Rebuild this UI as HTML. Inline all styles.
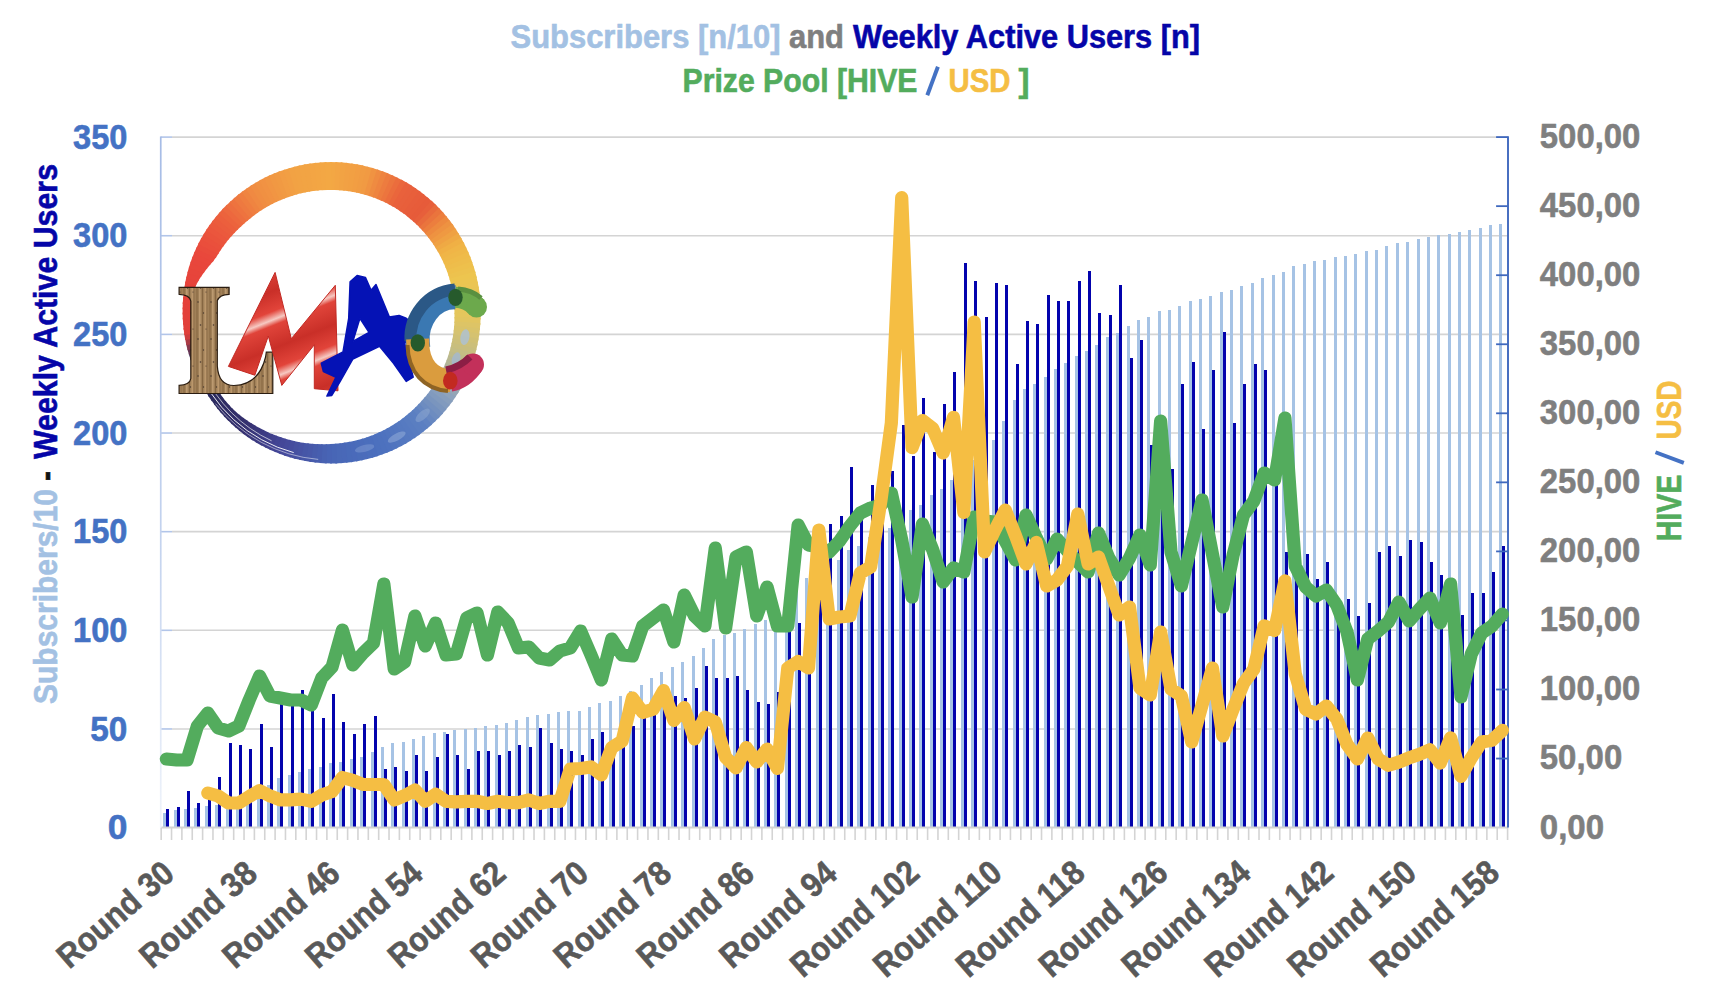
<!DOCTYPE html>
<html><head><meta charset="utf-8"><title>LMAC chart</title>
<style>html,body{margin:0;padding:0;background:#fff;}body{width:1714px;height:998px;position:relative;overflow:hidden;font-family:"Liberation Sans",sans-serif;}</style>
</head><body>
<svg width="1714" height="998" viewBox="0 0 1714 998" style="position:absolute;left:0;top:0">
<line x1="172" y1="728.96" x2="1507.60" y2="728.96" stroke="#D4D4D4" stroke-width="1.6"/>
<line x1="160.70" y1="728.96" x2="172" y2="728.96" stroke="#B2C5E9" stroke-width="1.6"/>
<line x1="172" y1="630.31" x2="1507.60" y2="630.31" stroke="#D4D4D4" stroke-width="1.6"/>
<line x1="160.70" y1="630.31" x2="172" y2="630.31" stroke="#B2C5E9" stroke-width="1.6"/>
<line x1="172" y1="531.67" x2="1507.60" y2="531.67" stroke="#D4D4D4" stroke-width="1.6"/>
<line x1="160.70" y1="531.67" x2="172" y2="531.67" stroke="#B2C5E9" stroke-width="1.6"/>
<line x1="172" y1="433.03" x2="1507.60" y2="433.03" stroke="#D4D4D4" stroke-width="1.6"/>
<line x1="160.70" y1="433.03" x2="172" y2="433.03" stroke="#B2C5E9" stroke-width="1.6"/>
<line x1="172" y1="334.39" x2="1507.60" y2="334.39" stroke="#D4D4D4" stroke-width="1.6"/>
<line x1="160.70" y1="334.39" x2="172" y2="334.39" stroke="#B2C5E9" stroke-width="1.6"/>
<line x1="172" y1="235.74" x2="1507.60" y2="235.74" stroke="#D4D4D4" stroke-width="1.6"/>
<line x1="160.70" y1="235.74" x2="172" y2="235.74" stroke="#B2C5E9" stroke-width="1.6"/>
<line x1="172" y1="137.10" x2="1507.60" y2="137.10" stroke="#D4D4D4" stroke-width="1.6"/>
<line x1="160.70" y1="137.10" x2="172" y2="137.10" stroke="#B2C5E9" stroke-width="1.6"/>
<g shape-rendering="crispEdges">
<rect x="163" y="813" width="3" height="15" fill="#A6C3E5"/>
<rect x="174" y="810" width="3" height="18" fill="#A6C3E5"/>
<rect x="184" y="809" width="3" height="19" fill="#A6C3E5"/>
<rect x="194" y="808" width="3" height="20" fill="#A6C3E5"/>
<rect x="205" y="806" width="3" height="22" fill="#A6C3E5"/>
<rect x="215" y="805" width="3" height="23" fill="#A6C3E5"/>
<rect x="226" y="802" width="3" height="26" fill="#A6C3E5"/>
<rect x="236" y="798" width="3" height="30" fill="#A6C3E5"/>
<rect x="246" y="794" width="3" height="34" fill="#A6C3E5"/>
<rect x="257" y="790" width="3" height="38" fill="#A6C3E5"/>
<rect x="267" y="785" width="3" height="43" fill="#A6C3E5"/>
<rect x="277" y="778" width="3" height="50" fill="#A6C3E5"/>
<rect x="288" y="775" width="3" height="53" fill="#A6C3E5"/>
<rect x="298" y="772" width="3" height="56" fill="#A6C3E5"/>
<rect x="308" y="769" width="3" height="59" fill="#A6C3E5"/>
<rect x="319" y="767" width="3" height="61" fill="#A6C3E5"/>
<rect x="329" y="763" width="3" height="65" fill="#A6C3E5"/>
<rect x="339" y="762" width="3" height="66" fill="#A6C3E5"/>
<rect x="350" y="759" width="3" height="69" fill="#A6C3E5"/>
<rect x="360" y="757" width="3" height="71" fill="#A6C3E5"/>
<rect x="371" y="752" width="3" height="76" fill="#A6C3E5"/>
<rect x="381" y="747" width="3" height="81" fill="#A6C3E5"/>
<rect x="391" y="743" width="3" height="85" fill="#A6C3E5"/>
<rect x="402" y="742" width="3" height="86" fill="#A6C3E5"/>
<rect x="412" y="739" width="3" height="89" fill="#A6C3E5"/>
<rect x="422" y="736" width="3" height="92" fill="#A6C3E5"/>
<rect x="433" y="733" width="3" height="95" fill="#A6C3E5"/>
<rect x="443" y="732" width="3" height="96" fill="#A6C3E5"/>
<rect x="453" y="730" width="3" height="98" fill="#A6C3E5"/>
<rect x="464" y="729" width="3" height="99" fill="#A6C3E5"/>
<rect x="474" y="728" width="3" height="100" fill="#A6C3E5"/>
<rect x="484" y="726" width="3" height="102" fill="#A6C3E5"/>
<rect x="495" y="725" width="3" height="103" fill="#A6C3E5"/>
<rect x="505" y="723" width="3" height="105" fill="#A6C3E5"/>
<rect x="515" y="720" width="3" height="108" fill="#A6C3E5"/>
<rect x="526" y="717" width="3" height="111" fill="#A6C3E5"/>
<rect x="536" y="715" width="3" height="113" fill="#A6C3E5"/>
<rect x="547" y="714" width="3" height="114" fill="#A6C3E5"/>
<rect x="557" y="712" width="3" height="116" fill="#A6C3E5"/>
<rect x="567" y="711" width="3" height="117" fill="#A6C3E5"/>
<rect x="578" y="711" width="3" height="117" fill="#A6C3E5"/>
<rect x="588" y="707" width="3" height="121" fill="#A6C3E5"/>
<rect x="598" y="703" width="3" height="125" fill="#A6C3E5"/>
<rect x="609" y="701" width="3" height="127" fill="#A6C3E5"/>
<rect x="619" y="696" width="3" height="132" fill="#A6C3E5"/>
<rect x="629" y="691" width="3" height="137" fill="#A6C3E5"/>
<rect x="640" y="685" width="3" height="143" fill="#A6C3E5"/>
<rect x="650" y="678" width="3" height="150" fill="#A6C3E5"/>
<rect x="660" y="672" width="3" height="156" fill="#A6C3E5"/>
<rect x="671" y="667" width="3" height="161" fill="#A6C3E5"/>
<rect x="681" y="662" width="3" height="166" fill="#A6C3E5"/>
<rect x="692" y="656" width="3" height="172" fill="#A6C3E5"/>
<rect x="702" y="648" width="3" height="180" fill="#A6C3E5"/>
<rect x="712" y="639" width="3" height="189" fill="#A6C3E5"/>
<rect x="723" y="635" width="3" height="193" fill="#A6C3E5"/>
<rect x="733" y="633" width="3" height="195" fill="#A6C3E5"/>
<rect x="743" y="629" width="3" height="199" fill="#A6C3E5"/>
<rect x="754" y="624" width="3" height="204" fill="#A6C3E5"/>
<rect x="764" y="620" width="3" height="208" fill="#A6C3E5"/>
<rect x="774" y="617" width="3" height="211" fill="#A6C3E5"/>
<rect x="785" y="605" width="3" height="223" fill="#A6C3E5"/>
<rect x="795" y="592" width="3" height="236" fill="#A6C3E5"/>
<rect x="805" y="578" width="3" height="250" fill="#A6C3E5"/>
<rect x="816" y="570" width="3" height="258" fill="#A6C3E5"/>
<rect x="826" y="565" width="3" height="263" fill="#A6C3E5"/>
<rect x="837" y="560" width="3" height="268" fill="#A6C3E5"/>
<rect x="847" y="550" width="3" height="278" fill="#A6C3E5"/>
<rect x="857" y="546" width="3" height="282" fill="#A6C3E5"/>
<rect x="868" y="537" width="3" height="291" fill="#A6C3E5"/>
<rect x="878" y="532" width="3" height="296" fill="#A6C3E5"/>
<rect x="888" y="528" width="3" height="300" fill="#A6C3E5"/>
<rect x="899" y="518" width="3" height="310" fill="#A6C3E5"/>
<rect x="909" y="510" width="3" height="318" fill="#A6C3E5"/>
<rect x="919" y="505" width="3" height="323" fill="#A6C3E5"/>
<rect x="930" y="495" width="3" height="333" fill="#A6C3E5"/>
<rect x="940" y="489" width="3" height="339" fill="#A6C3E5"/>
<rect x="950" y="480" width="3" height="348" fill="#A6C3E5"/>
<rect x="961" y="470" width="3" height="358" fill="#A6C3E5"/>
<rect x="971" y="460" width="3" height="368" fill="#A6C3E5"/>
<rect x="982" y="450" width="3" height="378" fill="#A6C3E5"/>
<rect x="992" y="440" width="3" height="388" fill="#A6C3E5"/>
<rect x="1002" y="421" width="3" height="407" fill="#A6C3E5"/>
<rect x="1013" y="400" width="3" height="428" fill="#A6C3E5"/>
<rect x="1023" y="389" width="3" height="439" fill="#A6C3E5"/>
<rect x="1033" y="384" width="3" height="444" fill="#A6C3E5"/>
<rect x="1044" y="377" width="3" height="451" fill="#A6C3E5"/>
<rect x="1054" y="369" width="3" height="459" fill="#A6C3E5"/>
<rect x="1064" y="363" width="3" height="465" fill="#A6C3E5"/>
<rect x="1075" y="356" width="3" height="472" fill="#A6C3E5"/>
<rect x="1085" y="351" width="3" height="477" fill="#A6C3E5"/>
<rect x="1095" y="345" width="3" height="483" fill="#A6C3E5"/>
<rect x="1106" y="337" width="3" height="491" fill="#A6C3E5"/>
<rect x="1116" y="333" width="3" height="495" fill="#A6C3E5"/>
<rect x="1127" y="326" width="3" height="502" fill="#A6C3E5"/>
<rect x="1137" y="320" width="3" height="508" fill="#A6C3E5"/>
<rect x="1147" y="317" width="3" height="511" fill="#A6C3E5"/>
<rect x="1158" y="311" width="3" height="517" fill="#A6C3E5"/>
<rect x="1168" y="310" width="3" height="518" fill="#A6C3E5"/>
<rect x="1178" y="306" width="3" height="522" fill="#A6C3E5"/>
<rect x="1189" y="301" width="3" height="527" fill="#A6C3E5"/>
<rect x="1199" y="299" width="3" height="529" fill="#A6C3E5"/>
<rect x="1209" y="296" width="3" height="532" fill="#A6C3E5"/>
<rect x="1220" y="292" width="3" height="536" fill="#A6C3E5"/>
<rect x="1230" y="290" width="3" height="538" fill="#A6C3E5"/>
<rect x="1240" y="286" width="3" height="542" fill="#A6C3E5"/>
<rect x="1251" y="283" width="3" height="545" fill="#A6C3E5"/>
<rect x="1261" y="278" width="3" height="550" fill="#A6C3E5"/>
<rect x="1272" y="275" width="3" height="553" fill="#A6C3E5"/>
<rect x="1282" y="272" width="3" height="556" fill="#A6C3E5"/>
<rect x="1292" y="266" width="3" height="562" fill="#A6C3E5"/>
<rect x="1303" y="264" width="3" height="564" fill="#A6C3E5"/>
<rect x="1313" y="261" width="3" height="567" fill="#A6C3E5"/>
<rect x="1323" y="260" width="3" height="568" fill="#A6C3E5"/>
<rect x="1334" y="257" width="3" height="571" fill="#A6C3E5"/>
<rect x="1344" y="256" width="3" height="572" fill="#A6C3E5"/>
<rect x="1354" y="254" width="3" height="574" fill="#A6C3E5"/>
<rect x="1365" y="251" width="3" height="577" fill="#A6C3E5"/>
<rect x="1375" y="250" width="3" height="578" fill="#A6C3E5"/>
<rect x="1385" y="246" width="3" height="582" fill="#A6C3E5"/>
<rect x="1396" y="243" width="3" height="585" fill="#A6C3E5"/>
<rect x="1406" y="242" width="3" height="586" fill="#A6C3E5"/>
<rect x="1417" y="239" width="3" height="589" fill="#A6C3E5"/>
<rect x="1427" y="237" width="3" height="591" fill="#A6C3E5"/>
<rect x="1437" y="235" width="3" height="593" fill="#A6C3E5"/>
<rect x="1448" y="234" width="3" height="594" fill="#A6C3E5"/>
<rect x="1458" y="232" width="3" height="596" fill="#A6C3E5"/>
<rect x="1468" y="230" width="3" height="598" fill="#A6C3E5"/>
<rect x="1479" y="228" width="3" height="600" fill="#A6C3E5"/>
<rect x="1489" y="225" width="3" height="603" fill="#A6C3E5"/>
<rect x="1499" y="224" width="3" height="604" fill="#A6C3E5"/>
<rect x="166" y="809" width="3" height="19" fill="#0303AD"/>
<rect x="177" y="807" width="3" height="21" fill="#0303AD"/>
<rect x="187" y="791" width="3" height="37" fill="#0303AD"/>
<rect x="197" y="803" width="3" height="25" fill="#0303AD"/>
<rect x="208" y="797" width="3" height="31" fill="#0303AD"/>
<rect x="218" y="777" width="3" height="51" fill="#0303AD"/>
<rect x="229" y="743" width="3" height="85" fill="#0303AD"/>
<rect x="239" y="745" width="3" height="83" fill="#0303AD"/>
<rect x="249" y="749" width="3" height="79" fill="#0303AD"/>
<rect x="260" y="724" width="3" height="104" fill="#0303AD"/>
<rect x="270" y="747" width="3" height="81" fill="#0303AD"/>
<rect x="280" y="704" width="3" height="124" fill="#0303AD"/>
<rect x="291" y="706" width="3" height="122" fill="#0303AD"/>
<rect x="301" y="690" width="3" height="138" fill="#0303AD"/>
<rect x="311" y="709" width="3" height="119" fill="#0303AD"/>
<rect x="322" y="718" width="3" height="110" fill="#0303AD"/>
<rect x="332" y="694" width="3" height="134" fill="#0303AD"/>
<rect x="342" y="722" width="3" height="106" fill="#0303AD"/>
<rect x="353" y="734" width="3" height="94" fill="#0303AD"/>
<rect x="363" y="724" width="3" height="104" fill="#0303AD"/>
<rect x="374" y="716" width="3" height="112" fill="#0303AD"/>
<rect x="384" y="769" width="3" height="59" fill="#0303AD"/>
<rect x="394" y="767" width="3" height="61" fill="#0303AD"/>
<rect x="405" y="771" width="3" height="57" fill="#0303AD"/>
<rect x="415" y="755" width="3" height="73" fill="#0303AD"/>
<rect x="425" y="771" width="3" height="57" fill="#0303AD"/>
<rect x="436" y="757" width="3" height="71" fill="#0303AD"/>
<rect x="446" y="734" width="3" height="94" fill="#0303AD"/>
<rect x="456" y="755" width="3" height="73" fill="#0303AD"/>
<rect x="467" y="769" width="3" height="59" fill="#0303AD"/>
<rect x="477" y="751" width="3" height="77" fill="#0303AD"/>
<rect x="487" y="751" width="3" height="77" fill="#0303AD"/>
<rect x="498" y="755" width="3" height="73" fill="#0303AD"/>
<rect x="508" y="751" width="3" height="77" fill="#0303AD"/>
<rect x="518" y="745" width="3" height="83" fill="#0303AD"/>
<rect x="529" y="747" width="3" height="81" fill="#0303AD"/>
<rect x="539" y="728" width="3" height="100" fill="#0303AD"/>
<rect x="550" y="743" width="3" height="85" fill="#0303AD"/>
<rect x="560" y="749" width="3" height="79" fill="#0303AD"/>
<rect x="570" y="751" width="3" height="77" fill="#0303AD"/>
<rect x="581" y="755" width="3" height="73" fill="#0303AD"/>
<rect x="591" y="739" width="3" height="89" fill="#0303AD"/>
<rect x="601" y="732" width="3" height="96" fill="#0303AD"/>
<rect x="612" y="750" width="3" height="78" fill="#0303AD"/>
<rect x="622" y="745" width="3" height="83" fill="#0303AD"/>
<rect x="632" y="726" width="3" height="102" fill="#0303AD"/>
<rect x="643" y="717" width="3" height="111" fill="#0303AD"/>
<rect x="653" y="714" width="3" height="114" fill="#0303AD"/>
<rect x="663" y="709" width="3" height="119" fill="#0303AD"/>
<rect x="674" y="696" width="3" height="132" fill="#0303AD"/>
<rect x="684" y="698" width="3" height="130" fill="#0303AD"/>
<rect x="695" y="688" width="3" height="140" fill="#0303AD"/>
<rect x="705" y="666" width="3" height="162" fill="#0303AD"/>
<rect x="715" y="678" width="3" height="150" fill="#0303AD"/>
<rect x="726" y="678" width="3" height="150" fill="#0303AD"/>
<rect x="736" y="676" width="3" height="152" fill="#0303AD"/>
<rect x="746" y="690" width="3" height="138" fill="#0303AD"/>
<rect x="757" y="702" width="3" height="126" fill="#0303AD"/>
<rect x="767" y="704" width="3" height="124" fill="#0303AD"/>
<rect x="777" y="692" width="3" height="136" fill="#0303AD"/>
<rect x="788" y="628" width="3" height="200" fill="#0303AD"/>
<rect x="798" y="623" width="3" height="205" fill="#0303AD"/>
<rect x="808" y="590" width="3" height="238" fill="#0303AD"/>
<rect x="819" y="560" width="3" height="268" fill="#0303AD"/>
<rect x="829" y="524" width="3" height="304" fill="#0303AD"/>
<rect x="840" y="516" width="3" height="312" fill="#0303AD"/>
<rect x="850" y="467" width="3" height="361" fill="#0303AD"/>
<rect x="860" y="512" width="3" height="316" fill="#0303AD"/>
<rect x="871" y="485" width="3" height="343" fill="#0303AD"/>
<rect x="881" y="500" width="3" height="328" fill="#0303AD"/>
<rect x="891" y="471" width="3" height="357" fill="#0303AD"/>
<rect x="902" y="425" width="3" height="403" fill="#0303AD"/>
<rect x="912" y="456" width="3" height="372" fill="#0303AD"/>
<rect x="922" y="398" width="3" height="430" fill="#0303AD"/>
<rect x="933" y="452" width="3" height="376" fill="#0303AD"/>
<rect x="943" y="404" width="3" height="424" fill="#0303AD"/>
<rect x="953" y="372" width="3" height="456" fill="#0303AD"/>
<rect x="964" y="263" width="3" height="565" fill="#0303AD"/>
<rect x="974" y="281" width="3" height="547" fill="#0303AD"/>
<rect x="985" y="317" width="3" height="511" fill="#0303AD"/>
<rect x="995" y="283" width="3" height="545" fill="#0303AD"/>
<rect x="1005" y="285" width="3" height="543" fill="#0303AD"/>
<rect x="1016" y="364" width="3" height="464" fill="#0303AD"/>
<rect x="1026" y="321" width="3" height="507" fill="#0303AD"/>
<rect x="1036" y="324" width="3" height="504" fill="#0303AD"/>
<rect x="1047" y="295" width="3" height="533" fill="#0303AD"/>
<rect x="1057" y="301" width="3" height="527" fill="#0303AD"/>
<rect x="1067" y="301" width="3" height="527" fill="#0303AD"/>
<rect x="1078" y="281" width="3" height="547" fill="#0303AD"/>
<rect x="1088" y="271" width="3" height="557" fill="#0303AD"/>
<rect x="1098" y="313" width="3" height="515" fill="#0303AD"/>
<rect x="1109" y="315" width="3" height="513" fill="#0303AD"/>
<rect x="1119" y="285" width="3" height="543" fill="#0303AD"/>
<rect x="1130" y="358" width="3" height="470" fill="#0303AD"/>
<rect x="1140" y="340" width="3" height="488" fill="#0303AD"/>
<rect x="1150" y="445" width="3" height="383" fill="#0303AD"/>
<rect x="1161" y="445" width="3" height="383" fill="#0303AD"/>
<rect x="1171" y="469" width="3" height="359" fill="#0303AD"/>
<rect x="1181" y="384" width="3" height="444" fill="#0303AD"/>
<rect x="1192" y="362" width="3" height="466" fill="#0303AD"/>
<rect x="1202" y="429" width="3" height="399" fill="#0303AD"/>
<rect x="1212" y="370" width="3" height="458" fill="#0303AD"/>
<rect x="1223" y="332" width="3" height="496" fill="#0303AD"/>
<rect x="1233" y="423" width="3" height="405" fill="#0303AD"/>
<rect x="1243" y="384" width="3" height="444" fill="#0303AD"/>
<rect x="1254" y="364" width="3" height="464" fill="#0303AD"/>
<rect x="1264" y="370" width="3" height="458" fill="#0303AD"/>
<rect x="1275" y="470" width="3" height="358" fill="#0303AD"/>
<rect x="1285" y="552" width="3" height="276" fill="#0303AD"/>
<rect x="1295" y="555" width="3" height="273" fill="#0303AD"/>
<rect x="1306" y="554" width="3" height="274" fill="#0303AD"/>
<rect x="1316" y="579" width="3" height="249" fill="#0303AD"/>
<rect x="1326" y="562" width="3" height="266" fill="#0303AD"/>
<rect x="1337" y="600" width="3" height="228" fill="#0303AD"/>
<rect x="1347" y="599" width="3" height="229" fill="#0303AD"/>
<rect x="1357" y="616" width="3" height="212" fill="#0303AD"/>
<rect x="1368" y="603" width="3" height="225" fill="#0303AD"/>
<rect x="1378" y="552" width="3" height="276" fill="#0303AD"/>
<rect x="1388" y="546" width="3" height="282" fill="#0303AD"/>
<rect x="1399" y="556" width="3" height="272" fill="#0303AD"/>
<rect x="1409" y="540" width="3" height="288" fill="#0303AD"/>
<rect x="1420" y="542" width="3" height="286" fill="#0303AD"/>
<rect x="1430" y="562" width="3" height="266" fill="#0303AD"/>
<rect x="1440" y="575" width="3" height="253" fill="#0303AD"/>
<rect x="1451" y="584" width="3" height="244" fill="#0303AD"/>
<rect x="1461" y="615" width="3" height="213" fill="#0303AD"/>
<rect x="1471" y="593" width="3" height="235" fill="#0303AD"/>
<rect x="1482" y="593" width="3" height="235" fill="#0303AD"/>
<rect x="1492" y="572" width="3" height="256" fill="#0303AD"/>
<rect x="1502" y="546" width="3" height="282" fill="#0303AD"/>
</g>
<line x1="160.70" y1="827.60" x2="1508.20" y2="827.60" stroke="#D4D4D4" stroke-width="2"/>
<line x1="161.18" y1="827.60" x2="161.18" y2="840" stroke="#D4D4D4" stroke-width="1.6"/>
<line x1="171.54" y1="827.60" x2="171.54" y2="840" stroke="#D4D4D4" stroke-width="1.6"/>
<line x1="181.89" y1="827.60" x2="181.89" y2="840" stroke="#D4D4D4" stroke-width="1.6"/>
<line x1="192.25" y1="827.60" x2="192.25" y2="840" stroke="#D4D4D4" stroke-width="1.6"/>
<line x1="202.61" y1="827.60" x2="202.61" y2="840" stroke="#D4D4D4" stroke-width="1.6"/>
<line x1="212.97" y1="827.60" x2="212.97" y2="840" stroke="#D4D4D4" stroke-width="1.6"/>
<line x1="223.32" y1="827.60" x2="223.32" y2="840" stroke="#D4D4D4" stroke-width="1.6"/>
<line x1="233.68" y1="827.60" x2="233.68" y2="840" stroke="#D4D4D4" stroke-width="1.6"/>
<line x1="244.04" y1="827.60" x2="244.04" y2="840" stroke="#D4D4D4" stroke-width="1.6"/>
<line x1="254.39" y1="827.60" x2="254.39" y2="840" stroke="#D4D4D4" stroke-width="1.6"/>
<line x1="264.75" y1="827.60" x2="264.75" y2="840" stroke="#D4D4D4" stroke-width="1.6"/>
<line x1="275.11" y1="827.60" x2="275.11" y2="840" stroke="#D4D4D4" stroke-width="1.6"/>
<line x1="285.46" y1="827.60" x2="285.46" y2="840" stroke="#D4D4D4" stroke-width="1.6"/>
<line x1="295.82" y1="827.60" x2="295.82" y2="840" stroke="#D4D4D4" stroke-width="1.6"/>
<line x1="306.18" y1="827.60" x2="306.18" y2="840" stroke="#D4D4D4" stroke-width="1.6"/>
<line x1="316.54" y1="827.60" x2="316.54" y2="840" stroke="#D4D4D4" stroke-width="1.6"/>
<line x1="326.89" y1="827.60" x2="326.89" y2="840" stroke="#D4D4D4" stroke-width="1.6"/>
<line x1="337.25" y1="827.60" x2="337.25" y2="840" stroke="#D4D4D4" stroke-width="1.6"/>
<line x1="347.61" y1="827.60" x2="347.61" y2="840" stroke="#D4D4D4" stroke-width="1.6"/>
<line x1="357.96" y1="827.60" x2="357.96" y2="840" stroke="#D4D4D4" stroke-width="1.6"/>
<line x1="368.32" y1="827.60" x2="368.32" y2="840" stroke="#D4D4D4" stroke-width="1.6"/>
<line x1="378.68" y1="827.60" x2="378.68" y2="840" stroke="#D4D4D4" stroke-width="1.6"/>
<line x1="389.03" y1="827.60" x2="389.03" y2="840" stroke="#D4D4D4" stroke-width="1.6"/>
<line x1="399.39" y1="827.60" x2="399.39" y2="840" stroke="#D4D4D4" stroke-width="1.6"/>
<line x1="409.75" y1="827.60" x2="409.75" y2="840" stroke="#D4D4D4" stroke-width="1.6"/>
<line x1="420.10" y1="827.60" x2="420.10" y2="840" stroke="#D4D4D4" stroke-width="1.6"/>
<line x1="430.46" y1="827.60" x2="430.46" y2="840" stroke="#D4D4D4" stroke-width="1.6"/>
<line x1="440.82" y1="827.60" x2="440.82" y2="840" stroke="#D4D4D4" stroke-width="1.6"/>
<line x1="451.18" y1="827.60" x2="451.18" y2="840" stroke="#D4D4D4" stroke-width="1.6"/>
<line x1="461.53" y1="827.60" x2="461.53" y2="840" stroke="#D4D4D4" stroke-width="1.6"/>
<line x1="471.89" y1="827.60" x2="471.89" y2="840" stroke="#D4D4D4" stroke-width="1.6"/>
<line x1="482.25" y1="827.60" x2="482.25" y2="840" stroke="#D4D4D4" stroke-width="1.6"/>
<line x1="492.60" y1="827.60" x2="492.60" y2="840" stroke="#D4D4D4" stroke-width="1.6"/>
<line x1="502.96" y1="827.60" x2="502.96" y2="840" stroke="#D4D4D4" stroke-width="1.6"/>
<line x1="513.32" y1="827.60" x2="513.32" y2="840" stroke="#D4D4D4" stroke-width="1.6"/>
<line x1="523.68" y1="827.60" x2="523.68" y2="840" stroke="#D4D4D4" stroke-width="1.6"/>
<line x1="534.03" y1="827.60" x2="534.03" y2="840" stroke="#D4D4D4" stroke-width="1.6"/>
<line x1="544.39" y1="827.60" x2="544.39" y2="840" stroke="#D4D4D4" stroke-width="1.6"/>
<line x1="554.75" y1="827.60" x2="554.75" y2="840" stroke="#D4D4D4" stroke-width="1.6"/>
<line x1="565.10" y1="827.60" x2="565.10" y2="840" stroke="#D4D4D4" stroke-width="1.6"/>
<line x1="575.46" y1="827.60" x2="575.46" y2="840" stroke="#D4D4D4" stroke-width="1.6"/>
<line x1="585.82" y1="827.60" x2="585.82" y2="840" stroke="#D4D4D4" stroke-width="1.6"/>
<line x1="596.17" y1="827.60" x2="596.17" y2="840" stroke="#D4D4D4" stroke-width="1.6"/>
<line x1="606.53" y1="827.60" x2="606.53" y2="840" stroke="#D4D4D4" stroke-width="1.6"/>
<line x1="616.89" y1="827.60" x2="616.89" y2="840" stroke="#D4D4D4" stroke-width="1.6"/>
<line x1="627.25" y1="827.60" x2="627.25" y2="840" stroke="#D4D4D4" stroke-width="1.6"/>
<line x1="637.60" y1="827.60" x2="637.60" y2="840" stroke="#D4D4D4" stroke-width="1.6"/>
<line x1="647.96" y1="827.60" x2="647.96" y2="840" stroke="#D4D4D4" stroke-width="1.6"/>
<line x1="658.32" y1="827.60" x2="658.32" y2="840" stroke="#D4D4D4" stroke-width="1.6"/>
<line x1="668.67" y1="827.60" x2="668.67" y2="840" stroke="#D4D4D4" stroke-width="1.6"/>
<line x1="679.03" y1="827.60" x2="679.03" y2="840" stroke="#D4D4D4" stroke-width="1.6"/>
<line x1="689.39" y1="827.60" x2="689.39" y2="840" stroke="#D4D4D4" stroke-width="1.6"/>
<line x1="699.74" y1="827.60" x2="699.74" y2="840" stroke="#D4D4D4" stroke-width="1.6"/>
<line x1="710.10" y1="827.60" x2="710.10" y2="840" stroke="#D4D4D4" stroke-width="1.6"/>
<line x1="720.46" y1="827.60" x2="720.46" y2="840" stroke="#D4D4D4" stroke-width="1.6"/>
<line x1="730.82" y1="827.60" x2="730.82" y2="840" stroke="#D4D4D4" stroke-width="1.6"/>
<line x1="741.17" y1="827.60" x2="741.17" y2="840" stroke="#D4D4D4" stroke-width="1.6"/>
<line x1="751.53" y1="827.60" x2="751.53" y2="840" stroke="#D4D4D4" stroke-width="1.6"/>
<line x1="761.89" y1="827.60" x2="761.89" y2="840" stroke="#D4D4D4" stroke-width="1.6"/>
<line x1="772.24" y1="827.60" x2="772.24" y2="840" stroke="#D4D4D4" stroke-width="1.6"/>
<line x1="782.60" y1="827.60" x2="782.60" y2="840" stroke="#D4D4D4" stroke-width="1.6"/>
<line x1="792.96" y1="827.60" x2="792.96" y2="840" stroke="#D4D4D4" stroke-width="1.6"/>
<line x1="803.31" y1="827.60" x2="803.31" y2="840" stroke="#D4D4D4" stroke-width="1.6"/>
<line x1="813.67" y1="827.60" x2="813.67" y2="840" stroke="#D4D4D4" stroke-width="1.6"/>
<line x1="824.03" y1="827.60" x2="824.03" y2="840" stroke="#D4D4D4" stroke-width="1.6"/>
<line x1="834.38" y1="827.60" x2="834.38" y2="840" stroke="#D4D4D4" stroke-width="1.6"/>
<line x1="844.74" y1="827.60" x2="844.74" y2="840" stroke="#D4D4D4" stroke-width="1.6"/>
<line x1="855.10" y1="827.60" x2="855.10" y2="840" stroke="#D4D4D4" stroke-width="1.6"/>
<line x1="865.46" y1="827.60" x2="865.46" y2="840" stroke="#D4D4D4" stroke-width="1.6"/>
<line x1="875.81" y1="827.60" x2="875.81" y2="840" stroke="#D4D4D4" stroke-width="1.6"/>
<line x1="886.17" y1="827.60" x2="886.17" y2="840" stroke="#D4D4D4" stroke-width="1.6"/>
<line x1="896.53" y1="827.60" x2="896.53" y2="840" stroke="#D4D4D4" stroke-width="1.6"/>
<line x1="906.88" y1="827.60" x2="906.88" y2="840" stroke="#D4D4D4" stroke-width="1.6"/>
<line x1="917.24" y1="827.60" x2="917.24" y2="840" stroke="#D4D4D4" stroke-width="1.6"/>
<line x1="927.60" y1="827.60" x2="927.60" y2="840" stroke="#D4D4D4" stroke-width="1.6"/>
<line x1="937.96" y1="827.60" x2="937.96" y2="840" stroke="#D4D4D4" stroke-width="1.6"/>
<line x1="948.31" y1="827.60" x2="948.31" y2="840" stroke="#D4D4D4" stroke-width="1.6"/>
<line x1="958.67" y1="827.60" x2="958.67" y2="840" stroke="#D4D4D4" stroke-width="1.6"/>
<line x1="969.03" y1="827.60" x2="969.03" y2="840" stroke="#D4D4D4" stroke-width="1.6"/>
<line x1="979.38" y1="827.60" x2="979.38" y2="840" stroke="#D4D4D4" stroke-width="1.6"/>
<line x1="989.74" y1="827.60" x2="989.74" y2="840" stroke="#D4D4D4" stroke-width="1.6"/>
<line x1="1000.10" y1="827.60" x2="1000.10" y2="840" stroke="#D4D4D4" stroke-width="1.6"/>
<line x1="1010.45" y1="827.60" x2="1010.45" y2="840" stroke="#D4D4D4" stroke-width="1.6"/>
<line x1="1020.81" y1="827.60" x2="1020.81" y2="840" stroke="#D4D4D4" stroke-width="1.6"/>
<line x1="1031.17" y1="827.60" x2="1031.17" y2="840" stroke="#D4D4D4" stroke-width="1.6"/>
<line x1="1041.52" y1="827.60" x2="1041.52" y2="840" stroke="#D4D4D4" stroke-width="1.6"/>
<line x1="1051.88" y1="827.60" x2="1051.88" y2="840" stroke="#D4D4D4" stroke-width="1.6"/>
<line x1="1062.24" y1="827.60" x2="1062.24" y2="840" stroke="#D4D4D4" stroke-width="1.6"/>
<line x1="1072.60" y1="827.60" x2="1072.60" y2="840" stroke="#D4D4D4" stroke-width="1.6"/>
<line x1="1082.95" y1="827.60" x2="1082.95" y2="840" stroke="#D4D4D4" stroke-width="1.6"/>
<line x1="1093.31" y1="827.60" x2="1093.31" y2="840" stroke="#D4D4D4" stroke-width="1.6"/>
<line x1="1103.67" y1="827.60" x2="1103.67" y2="840" stroke="#D4D4D4" stroke-width="1.6"/>
<line x1="1114.02" y1="827.60" x2="1114.02" y2="840" stroke="#D4D4D4" stroke-width="1.6"/>
<line x1="1124.38" y1="827.60" x2="1124.38" y2="840" stroke="#D4D4D4" stroke-width="1.6"/>
<line x1="1134.74" y1="827.60" x2="1134.74" y2="840" stroke="#D4D4D4" stroke-width="1.6"/>
<line x1="1145.10" y1="827.60" x2="1145.10" y2="840" stroke="#D4D4D4" stroke-width="1.6"/>
<line x1="1155.45" y1="827.60" x2="1155.45" y2="840" stroke="#D4D4D4" stroke-width="1.6"/>
<line x1="1165.81" y1="827.60" x2="1165.81" y2="840" stroke="#D4D4D4" stroke-width="1.6"/>
<line x1="1176.17" y1="827.60" x2="1176.17" y2="840" stroke="#D4D4D4" stroke-width="1.6"/>
<line x1="1186.52" y1="827.60" x2="1186.52" y2="840" stroke="#D4D4D4" stroke-width="1.6"/>
<line x1="1196.88" y1="827.60" x2="1196.88" y2="840" stroke="#D4D4D4" stroke-width="1.6"/>
<line x1="1207.24" y1="827.60" x2="1207.24" y2="840" stroke="#D4D4D4" stroke-width="1.6"/>
<line x1="1217.59" y1="827.60" x2="1217.59" y2="840" stroke="#D4D4D4" stroke-width="1.6"/>
<line x1="1227.95" y1="827.60" x2="1227.95" y2="840" stroke="#D4D4D4" stroke-width="1.6"/>
<line x1="1238.31" y1="827.60" x2="1238.31" y2="840" stroke="#D4D4D4" stroke-width="1.6"/>
<line x1="1248.66" y1="827.60" x2="1248.66" y2="840" stroke="#D4D4D4" stroke-width="1.6"/>
<line x1="1259.02" y1="827.60" x2="1259.02" y2="840" stroke="#D4D4D4" stroke-width="1.6"/>
<line x1="1269.38" y1="827.60" x2="1269.38" y2="840" stroke="#D4D4D4" stroke-width="1.6"/>
<line x1="1279.74" y1="827.60" x2="1279.74" y2="840" stroke="#D4D4D4" stroke-width="1.6"/>
<line x1="1290.09" y1="827.60" x2="1290.09" y2="840" stroke="#D4D4D4" stroke-width="1.6"/>
<line x1="1300.45" y1="827.60" x2="1300.45" y2="840" stroke="#D4D4D4" stroke-width="1.6"/>
<line x1="1310.81" y1="827.60" x2="1310.81" y2="840" stroke="#D4D4D4" stroke-width="1.6"/>
<line x1="1321.16" y1="827.60" x2="1321.16" y2="840" stroke="#D4D4D4" stroke-width="1.6"/>
<line x1="1331.52" y1="827.60" x2="1331.52" y2="840" stroke="#D4D4D4" stroke-width="1.6"/>
<line x1="1341.88" y1="827.60" x2="1341.88" y2="840" stroke="#D4D4D4" stroke-width="1.6"/>
<line x1="1352.23" y1="827.60" x2="1352.23" y2="840" stroke="#D4D4D4" stroke-width="1.6"/>
<line x1="1362.59" y1="827.60" x2="1362.59" y2="840" stroke="#D4D4D4" stroke-width="1.6"/>
<line x1="1372.95" y1="827.60" x2="1372.95" y2="840" stroke="#D4D4D4" stroke-width="1.6"/>
<line x1="1383.31" y1="827.60" x2="1383.31" y2="840" stroke="#D4D4D4" stroke-width="1.6"/>
<line x1="1393.66" y1="827.60" x2="1393.66" y2="840" stroke="#D4D4D4" stroke-width="1.6"/>
<line x1="1404.02" y1="827.60" x2="1404.02" y2="840" stroke="#D4D4D4" stroke-width="1.6"/>
<line x1="1414.38" y1="827.60" x2="1414.38" y2="840" stroke="#D4D4D4" stroke-width="1.6"/>
<line x1="1424.73" y1="827.60" x2="1424.73" y2="840" stroke="#D4D4D4" stroke-width="1.6"/>
<line x1="1435.09" y1="827.60" x2="1435.09" y2="840" stroke="#D4D4D4" stroke-width="1.6"/>
<line x1="1445.45" y1="827.60" x2="1445.45" y2="840" stroke="#D4D4D4" stroke-width="1.6"/>
<line x1="1455.81" y1="827.60" x2="1455.81" y2="840" stroke="#D4D4D4" stroke-width="1.6"/>
<line x1="1466.16" y1="827.60" x2="1466.16" y2="840" stroke="#D4D4D4" stroke-width="1.6"/>
<line x1="1476.52" y1="827.60" x2="1476.52" y2="840" stroke="#D4D4D4" stroke-width="1.6"/>
<line x1="1486.88" y1="827.60" x2="1486.88" y2="840" stroke="#D4D4D4" stroke-width="1.6"/>
<line x1="1497.23" y1="827.60" x2="1497.23" y2="840" stroke="#D4D4D4" stroke-width="1.6"/>
<line x1="1507.59" y1="827.60" x2="1507.59" y2="840" stroke="#D4D4D4" stroke-width="1.6"/>
<defs><linearGradient id="laxis" gradientUnits="userSpaceOnUse" x1="0" y1="137" x2="0" y2="828"><stop offset="0" stop-color="#A6BCE6"/><stop offset="0.6" stop-color="#C5D4EF"/><stop offset="1" stop-color="#F0F4FB"/></linearGradient></defs>
<rect x="159.90" y="136.50" width="1.7" height="691.10" fill="url(#laxis)"/>
<line x1="1508.00" y1="136.30" x2="1508.00" y2="827.60" stroke="#3F68BE" stroke-width="1.9"/>
<line x1="1496.10" y1="758.55" x2="1507.60" y2="758.55" stroke="#3F68BE" stroke-width="1.8"/>
<line x1="1496.10" y1="689.50" x2="1507.60" y2="689.50" stroke="#3F68BE" stroke-width="1.8"/>
<line x1="1496.10" y1="620.45" x2="1507.60" y2="620.45" stroke="#3F68BE" stroke-width="1.8"/>
<line x1="1496.10" y1="551.40" x2="1507.60" y2="551.40" stroke="#3F68BE" stroke-width="1.8"/>
<line x1="1496.10" y1="482.35" x2="1507.60" y2="482.35" stroke="#3F68BE" stroke-width="1.8"/>
<line x1="1496.10" y1="413.30" x2="1507.60" y2="413.30" stroke="#3F68BE" stroke-width="1.8"/>
<line x1="1496.10" y1="344.25" x2="1507.60" y2="344.25" stroke="#3F68BE" stroke-width="1.8"/>
<line x1="1496.10" y1="275.20" x2="1507.60" y2="275.20" stroke="#3F68BE" stroke-width="1.8"/>
<line x1="1496.10" y1="206.15" x2="1507.60" y2="206.15" stroke="#3F68BE" stroke-width="1.8"/>
<line x1="1496.10" y1="137.10" x2="1507.60" y2="137.10" stroke="#3F68BE" stroke-width="1.8"/>
<polyline points="166.36,759.00 176.72,760.00 187.07,760.00 197.43,726.00 207.79,713.00 218.15,728.00 228.50,731.00 238.86,726.00 249.22,700.00 259.57,676.00 269.93,696.00 280.29,698.00 290.64,700.00 301.00,700.00 311.36,705.00 321.72,678.00 332.07,667.00 342.43,630.00 352.79,665.00 363.14,653.00 373.50,643.00 383.86,584.00 394.21,669.00 404.57,662.00 414.93,616.00 425.28,646.00 435.64,623.00 446.00,655.00 456.36,654.00 466.71,618.00 477.07,613.00 487.43,655.00 497.78,612.00 508.14,623.00 518.50,648.00 528.86,647.00 539.21,658.00 549.57,660.00 559.93,651.00 570.28,648.00 580.64,631.00 591.00,655.00 601.35,680.00 611.71,639.00 622.07,655.00 632.42,656.00 642.78,626.00 653.14,618.00 663.50,610.00 673.85,642.00 684.21,595.00 694.57,616.00 704.92,626.00 715.28,548.00 725.64,628.00 736.00,557.00 746.35,552.00 756.71,616.00 767.07,587.00 777.42,626.00 787.78,626.00 798.14,525.00 808.49,545.00 818.85,547.00 829.21,552.00 839.56,541.00 849.92,526.00 860.28,513.00 870.64,508.00 880.99,505.00 891.35,493.00 901.71,540.00 912.06,597.00 922.42,524.00 932.78,550.00 943.13,582.00 953.49,568.00 963.85,572.00 974.21,517.00 984.56,521.00 994.92,522.00 1005.28,541.00 1015.63,560.00 1025.99,515.00 1036.35,538.00 1046.70,559.00 1057.06,539.00 1067.42,551.00 1077.78,562.00 1088.13,572.00 1098.49,533.00 1108.85,558.00 1119.20,575.00 1129.56,558.00 1139.92,535.00 1150.28,565.00 1160.63,421.00 1170.99,552.00 1181.35,586.00 1191.70,543.00 1202.06,500.00 1212.42,554.00 1222.77,607.00 1233.13,555.00 1243.49,515.00 1253.84,501.00 1264.20,473.00 1274.56,480.00 1284.92,418.00 1295.27,566.00 1305.63,587.00 1315.99,596.00 1326.34,590.00 1336.70,605.00 1347.06,632.00 1357.41,680.00 1367.77,639.00 1378.13,631.00 1388.49,622.00 1398.84,602.00 1409.20,621.00 1419.56,609.00 1429.91,598.00 1440.27,623.00 1450.63,584.00 1460.99,697.00 1471.34,654.00 1481.70,633.00 1492.06,626.00 1502.41,614.00" fill="none" stroke="#53AC5D" stroke-width="13.2" stroke-linejoin="round" stroke-linecap="round"/>
<polyline points="207.79,793.00 218.15,796.00 228.50,803.00 238.86,803.00 249.22,796.50 259.57,790.60 269.93,795.80 280.29,799.90 290.64,799.90 301.00,799.10 311.36,801.30 321.72,795.10 332.07,791.50 342.43,777.50 352.79,780.30 363.14,784.50 373.50,784.50 383.86,784.50 394.21,799.90 404.57,795.70 414.93,790.10 425.28,801.30 435.64,794.30 446.00,801.30 456.36,801.90 466.71,801.30 477.07,801.30 487.43,803.50 497.78,801.30 508.14,802.70 518.50,802.70 528.86,799.90 539.21,803.50 549.57,801.30 559.93,801.30 570.28,769.00 580.64,768.50 591.00,766.90 601.35,774.90 611.71,747.60 622.07,741.20 632.42,698.00 642.78,712.40 653.14,709.20 663.50,690.60 673.85,720.40 684.21,707.60 694.57,739.00 704.92,717.20 715.28,722.00 725.64,757.30 736.00,767.90 746.35,747.60 756.71,762.00 767.07,749.20 777.42,768.50 787.78,668.00 798.14,661.50 808.49,668.00 818.85,530.00 829.21,619.00 839.56,617.00 849.92,616.00 860.28,573.00 870.64,567.00 880.99,500.00 891.35,423.00 901.71,197.60 912.06,447.70 922.42,420.50 932.78,428.50 943.13,453.00 953.49,417.30 963.85,512.50 974.21,322.00 984.56,552.00 994.92,530.00 1005.28,510.00 1015.63,536.00 1025.99,564.00 1036.35,542.40 1046.70,586.00 1057.06,580.00 1067.42,566.00 1077.78,514.00 1088.13,564.00 1098.49,557.00 1108.85,586.00 1119.20,615.00 1129.56,607.00 1139.92,688.00 1150.28,695.00 1160.63,632.00 1170.99,689.00 1181.35,696.00 1191.70,742.00 1202.06,705.00 1212.42,668.00 1222.77,736.00 1233.13,709.20 1243.49,683.50 1253.84,669.10 1264.20,625.80 1274.56,630.60 1284.92,580.90 1295.27,673.90 1305.63,709.20 1315.99,714.00 1326.34,706.00 1336.70,718.80 1347.06,744.40 1357.41,758.90 1367.77,738.00 1378.13,758.90 1388.49,765.30 1398.84,762.10 1409.20,757.80 1419.56,754.30 1429.91,749.70 1440.27,763.10 1450.63,737.80 1460.99,776.40 1471.34,757.80 1481.70,742.00 1492.06,740.30 1502.41,730.40" fill="none" stroke="#F5BE43" stroke-width="13.2" stroke-linejoin="round" stroke-linecap="round"/>
<text x="127.4" y="839.30" text-anchor="end" textLength="19.7" lengthAdjust="spacingAndGlyphs" font-family="'Liberation Sans', sans-serif" font-weight="bold" font-size="35.5" fill="#4472C4" stroke="#4472C4" stroke-width="0.6">0</text>
<text x="127.4" y="740.66" text-anchor="end" textLength="37.1" lengthAdjust="spacingAndGlyphs" font-family="'Liberation Sans', sans-serif" font-weight="bold" font-size="35.5" fill="#4472C4" stroke="#4472C4" stroke-width="0.6">50</text>
<text x="127.4" y="642.01" text-anchor="end" textLength="54.4" lengthAdjust="spacingAndGlyphs" font-family="'Liberation Sans', sans-serif" font-weight="bold" font-size="35.5" fill="#4472C4" stroke="#4472C4" stroke-width="0.6">100</text>
<text x="127.4" y="543.37" text-anchor="end" textLength="54.4" lengthAdjust="spacingAndGlyphs" font-family="'Liberation Sans', sans-serif" font-weight="bold" font-size="35.5" fill="#4472C4" stroke="#4472C4" stroke-width="0.6">150</text>
<text x="127.4" y="444.73" text-anchor="end" textLength="54.4" lengthAdjust="spacingAndGlyphs" font-family="'Liberation Sans', sans-serif" font-weight="bold" font-size="35.5" fill="#4472C4" stroke="#4472C4" stroke-width="0.6">200</text>
<text x="127.4" y="346.09" text-anchor="end" textLength="54.4" lengthAdjust="spacingAndGlyphs" font-family="'Liberation Sans', sans-serif" font-weight="bold" font-size="35.5" fill="#4472C4" stroke="#4472C4" stroke-width="0.6">250</text>
<text x="127.4" y="247.44" text-anchor="end" textLength="54.4" lengthAdjust="spacingAndGlyphs" font-family="'Liberation Sans', sans-serif" font-weight="bold" font-size="35.5" fill="#4472C4" stroke="#4472C4" stroke-width="0.6">300</text>
<text x="127.4" y="148.80" text-anchor="end" textLength="54.4" lengthAdjust="spacingAndGlyphs" font-family="'Liberation Sans', sans-serif" font-weight="bold" font-size="35.5" fill="#4472C4" stroke="#4472C4" stroke-width="0.6">350</text>
<text x="1539.8" y="838.50" textLength="64.3" lengthAdjust="spacingAndGlyphs" font-family="'Liberation Sans', sans-serif" font-weight="bold" font-size="35.5" fill="#7F7F7F" stroke="#7F7F7F" stroke-width="0.6">0,00</text>
<text x="1539.8" y="769.45" textLength="82.4" lengthAdjust="spacingAndGlyphs" font-family="'Liberation Sans', sans-serif" font-weight="bold" font-size="35.5" fill="#7F7F7F" stroke="#7F7F7F" stroke-width="0.6">50,00</text>
<text x="1539.8" y="700.40" textLength="100.6" lengthAdjust="spacingAndGlyphs" font-family="'Liberation Sans', sans-serif" font-weight="bold" font-size="35.5" fill="#7F7F7F" stroke="#7F7F7F" stroke-width="0.6">100,00</text>
<text x="1539.8" y="631.35" textLength="100.6" lengthAdjust="spacingAndGlyphs" font-family="'Liberation Sans', sans-serif" font-weight="bold" font-size="35.5" fill="#7F7F7F" stroke="#7F7F7F" stroke-width="0.6">150,00</text>
<text x="1539.8" y="562.30" textLength="100.6" lengthAdjust="spacingAndGlyphs" font-family="'Liberation Sans', sans-serif" font-weight="bold" font-size="35.5" fill="#7F7F7F" stroke="#7F7F7F" stroke-width="0.6">200,00</text>
<text x="1539.8" y="493.25" textLength="100.6" lengthAdjust="spacingAndGlyphs" font-family="'Liberation Sans', sans-serif" font-weight="bold" font-size="35.5" fill="#7F7F7F" stroke="#7F7F7F" stroke-width="0.6">250,00</text>
<text x="1539.8" y="424.20" textLength="100.6" lengthAdjust="spacingAndGlyphs" font-family="'Liberation Sans', sans-serif" font-weight="bold" font-size="35.5" fill="#7F7F7F" stroke="#7F7F7F" stroke-width="0.6">300,00</text>
<text x="1539.8" y="355.15" textLength="100.6" lengthAdjust="spacingAndGlyphs" font-family="'Liberation Sans', sans-serif" font-weight="bold" font-size="35.5" fill="#7F7F7F" stroke="#7F7F7F" stroke-width="0.6">350,00</text>
<text x="1539.8" y="286.10" textLength="100.6" lengthAdjust="spacingAndGlyphs" font-family="'Liberation Sans', sans-serif" font-weight="bold" font-size="35.5" fill="#7F7F7F" stroke="#7F7F7F" stroke-width="0.6">400,00</text>
<text x="1539.8" y="217.05" textLength="100.6" lengthAdjust="spacingAndGlyphs" font-family="'Liberation Sans', sans-serif" font-weight="bold" font-size="35.5" fill="#7F7F7F" stroke="#7F7F7F" stroke-width="0.6">450,00</text>
<text x="1539.8" y="148.00" textLength="100.6" lengthAdjust="spacingAndGlyphs" font-family="'Liberation Sans', sans-serif" font-weight="bold" font-size="35.5" fill="#7F7F7F" stroke="#7F7F7F" stroke-width="0.6">500,00</text>
<text transform="translate(176.36,876.5) rotate(-41)" text-anchor="end" textLength="142.0" lengthAdjust="spacingAndGlyphs" font-family="'Liberation Sans', sans-serif" font-weight="bold" font-size="34" fill="#595959" stroke="#595959" stroke-width="0.6">Round 30</text>
<text transform="translate(259.22,876.5) rotate(-41)" text-anchor="end" textLength="142.0" lengthAdjust="spacingAndGlyphs" font-family="'Liberation Sans', sans-serif" font-weight="bold" font-size="34" fill="#595959" stroke="#595959" stroke-width="0.6">Round 38</text>
<text transform="translate(342.07,876.5) rotate(-41)" text-anchor="end" textLength="142.0" lengthAdjust="spacingAndGlyphs" font-family="'Liberation Sans', sans-serif" font-weight="bold" font-size="34" fill="#595959" stroke="#595959" stroke-width="0.6">Round 46</text>
<text transform="translate(424.93,876.5) rotate(-41)" text-anchor="end" textLength="142.0" lengthAdjust="spacingAndGlyphs" font-family="'Liberation Sans', sans-serif" font-weight="bold" font-size="34" fill="#595959" stroke="#595959" stroke-width="0.6">Round 54</text>
<text transform="translate(507.78,876.5) rotate(-41)" text-anchor="end" textLength="142.0" lengthAdjust="spacingAndGlyphs" font-family="'Liberation Sans', sans-serif" font-weight="bold" font-size="34" fill="#595959" stroke="#595959" stroke-width="0.6">Round 62</text>
<text transform="translate(590.64,876.5) rotate(-41)" text-anchor="end" textLength="142.0" lengthAdjust="spacingAndGlyphs" font-family="'Liberation Sans', sans-serif" font-weight="bold" font-size="34" fill="#595959" stroke="#595959" stroke-width="0.6">Round 70</text>
<text transform="translate(673.50,876.5) rotate(-41)" text-anchor="end" textLength="142.0" lengthAdjust="spacingAndGlyphs" font-family="'Liberation Sans', sans-serif" font-weight="bold" font-size="34" fill="#595959" stroke="#595959" stroke-width="0.6">Round 78</text>
<text transform="translate(756.35,876.5) rotate(-41)" text-anchor="end" textLength="142.0" lengthAdjust="spacingAndGlyphs" font-family="'Liberation Sans', sans-serif" font-weight="bold" font-size="34" fill="#595959" stroke="#595959" stroke-width="0.6">Round 86</text>
<text transform="translate(839.21,876.5) rotate(-41)" text-anchor="end" textLength="142.0" lengthAdjust="spacingAndGlyphs" font-family="'Liberation Sans', sans-serif" font-weight="bold" font-size="34" fill="#595959" stroke="#595959" stroke-width="0.6">Round 94</text>
<text transform="translate(921.26,875.9) rotate(-41)" text-anchor="end" textLength="156.9" lengthAdjust="spacingAndGlyphs" font-family="'Liberation Sans', sans-serif" font-weight="bold" font-size="34" fill="#595959" stroke="#595959" stroke-width="0.6">Round 102</text>
<text transform="translate(1004.12,875.9) rotate(-41)" text-anchor="end" textLength="156.9" lengthAdjust="spacingAndGlyphs" font-family="'Liberation Sans', sans-serif" font-weight="bold" font-size="34" fill="#595959" stroke="#595959" stroke-width="0.6">Round 110</text>
<text transform="translate(1086.98,875.9) rotate(-41)" text-anchor="end" textLength="156.9" lengthAdjust="spacingAndGlyphs" font-family="'Liberation Sans', sans-serif" font-weight="bold" font-size="34" fill="#595959" stroke="#595959" stroke-width="0.6">Round 118</text>
<text transform="translate(1169.83,875.9) rotate(-41)" text-anchor="end" textLength="156.9" lengthAdjust="spacingAndGlyphs" font-family="'Liberation Sans', sans-serif" font-weight="bold" font-size="34" fill="#595959" stroke="#595959" stroke-width="0.6">Round 126</text>
<text transform="translate(1252.69,875.9) rotate(-41)" text-anchor="end" textLength="156.9" lengthAdjust="spacingAndGlyphs" font-family="'Liberation Sans', sans-serif" font-weight="bold" font-size="34" fill="#595959" stroke="#595959" stroke-width="0.6">Round 134</text>
<text transform="translate(1335.54,875.9) rotate(-41)" text-anchor="end" textLength="156.9" lengthAdjust="spacingAndGlyphs" font-family="'Liberation Sans', sans-serif" font-weight="bold" font-size="34" fill="#595959" stroke="#595959" stroke-width="0.6">Round 142</text>
<text transform="translate(1418.40,875.9) rotate(-41)" text-anchor="end" textLength="156.9" lengthAdjust="spacingAndGlyphs" font-family="'Liberation Sans', sans-serif" font-weight="bold" font-size="34" fill="#595959" stroke="#595959" stroke-width="0.6">Round 150</text>
<text transform="translate(1501.26,875.9) rotate(-41)" text-anchor="end" textLength="156.9" lengthAdjust="spacingAndGlyphs" font-family="'Liberation Sans', sans-serif" font-weight="bold" font-size="34" fill="#595959" stroke="#595959" stroke-width="0.6">Round 158</text>
<text x="510.5" y="48.1" textLength="270" lengthAdjust="spacingAndGlyphs" font-family="'Liberation Sans', sans-serif" font-weight="bold" font-size="33.5" fill="#A3C1E3" stroke="#A3C1E3" stroke-width="0.6">Subscribers [n/10]</text>
<text x="789" y="48.1" textLength="55" lengthAdjust="spacingAndGlyphs" font-family="'Liberation Sans', sans-serif" font-weight="bold" font-size="33.5" fill="#7F7F7F" stroke="#7F7F7F" stroke-width="0.6">and</text>
<text x="853" y="48.1" textLength="347" lengthAdjust="spacingAndGlyphs" font-family="'Liberation Sans', sans-serif" font-weight="bold" font-size="33.5" fill="#0505A8" stroke="#0505A8" stroke-width="0.6">Weekly Active Users [n]</text>
<text x="682.5" y="91.6" textLength="235" lengthAdjust="spacingAndGlyphs" font-family="'Liberation Sans', sans-serif" font-weight="bold" font-size="33.5" fill="#53AC5D" stroke="#53AC5D" stroke-width="0.6">Prize Pool [HIVE</text>
<line x1="927.3" y1="95.2" x2="937.9" y2="66.8" stroke="#4472C4" stroke-width="3.9"/>
<text x="948.5" y="91.6" textLength="62" lengthAdjust="spacingAndGlyphs" font-family="'Liberation Sans', sans-serif" font-weight="bold" font-size="33.5" fill="#F5BE43" stroke="#F5BE43" stroke-width="0.6">USD</text>
<text x="1018.5" y="91.6" textLength="11" lengthAdjust="spacingAndGlyphs" font-family="'Liberation Sans', sans-serif" font-weight="bold" font-size="33.5" fill="#53AC5D" stroke="#53AC5D" stroke-width="0.6">]</text>
<g transform="translate(56.5,0) rotate(-90)">
<text x="-704" y="0" textLength="215" lengthAdjust="spacingAndGlyphs" font-family="'Liberation Sans', sans-serif" font-weight="bold" font-size="33.5" fill="#A3C1E3" stroke="#A3C1E3" stroke-width="0.6">Subscribers/10</text>
<text x="-481" y="0" textLength="10" lengthAdjust="spacingAndGlyphs" font-family="'Liberation Sans', sans-serif" font-weight="bold" font-size="33.5" fill="#111" stroke="#111" stroke-width="0.6">-</text>
<text x="-459" y="0" textLength="295" lengthAdjust="spacingAndGlyphs" font-family="'Liberation Sans', sans-serif" font-weight="bold" font-size="33.5" fill="#0505A8" stroke="#0505A8" stroke-width="0.6">Weekly Active Users</text>
</g>
<g transform="translate(1681,0) rotate(-90)">
<text x="-541.3" y="0" textLength="66.6" lengthAdjust="spacingAndGlyphs" font-family="'Liberation Sans', sans-serif" font-weight="bold" font-size="34.5" fill="#53AC5D" stroke="#53AC5D" stroke-width="0.6">HIVE</text>
<text x="-439.5" y="0" textLength="59" lengthAdjust="spacingAndGlyphs" font-family="'Liberation Sans', sans-serif" font-weight="bold" font-size="34.5" fill="#F5BE43" stroke="#F5BE43" stroke-width="0.6">USD</text>
</g>
<line x1="1655.5" y1="452.2" x2="1683.8" y2="462.9" stroke="#4472C4" stroke-width="3.9"/>
<g id="logo">
<defs>
<clipPath id="ringclip"><path clip-rule="evenodd" d="M182.10000000000002,312.5 a149.5,149.5 0 1,0 299.0,0 a149.5,149.5 0 1,0 -299.0,0 Z M204.0,316.0 a126.5,126.5 0 1,0 253.0,0 a126.5,126.5 0 1,0 -253.0,0 Z"/></clipPath>
<pattern id="wood" patternUnits="userSpaceOnUse" width="13" height="37"><rect width="13" height="37" fill="#A08058"/><rect x="1.5" width="1" height="37" fill="#86663F"/><rect x="4" width="1.6" height="37" fill="#BC9A70"/><rect x="7.2" width="0.7" height="37" fill="#7A5A38"/><rect x="9.5" width="1.4" height="37" fill="#BE9A6E"/><rect x="11.8" width="0.6" height="37" fill="#8E6D46"/><circle cx="3" cy="6" r="0.8" fill="#4A3A2E"/><circle cx="8.5" cy="17" r="0.7" fill="#4A3A2E"/><circle cx="5.5" cy="29" r="0.8" fill="#4A3A2E"/><circle cx="11" cy="33" r="0.6" fill="#4A3A2E"/></pattern>
<linearGradient id="mred" gradientUnits="userSpaceOnUse" x1="250" y1="300" x2="270" y2="350" spreadMethod="repeat"><stop offset="0" stop-color="#C92F28"/><stop offset="0.35" stop-color="#E2443A"/><stop offset="0.5" stop-color="#F6C9C2"/><stop offset="0.6" stop-color="#E0443A"/><stop offset="1" stop-color="#C92F28"/></linearGradient>
</defs>
<path d="M330.2,189.9 L330.1,162.0 L337.2,162.2 L336.1,190.0 Z" fill="#F3A744"/>
<path d="M334.6,190.0 L335.4,162.1 L342.5,162.5 L340.4,190.3 Z" fill="#F3A544"/>
<path d="M338.9,190.2 L340.6,162.3 L347.7,163.0 L344.7,190.7 Z" fill="#F2A344"/>
<path d="M343.2,190.5 L345.9,162.8 L353.0,163.7 L348.9,191.2 Z" fill="#F2A144"/>
<path d="M347.5,191.0 L351.2,163.4 L358.2,164.6 L353.2,191.9 Z" fill="#F2A043"/>
<path d="M351.7,191.7 L356.4,164.2 L363.4,165.6 L357.4,192.8 Z" fill="#F29E43"/>
<path d="M356.0,192.5 L361.6,165.2 L368.5,166.9 L361.6,193.8 Z" fill="#F19C43"/>
<path d="M360.2,193.4 L366.7,166.4 L373.6,168.3 L365.8,194.9 Z" fill="#F19A43"/>
<path d="M364.3,194.5 L371.8,167.8 L378.6,169.9 L369.9,196.2 Z" fill="#F09342"/>
<path d="M368.5,195.8 L376.9,169.3 L383.6,171.7 L374.0,197.7 Z" fill="#EF8B41"/>
<path d="M372.5,197.1 L381.9,171.0 L388.5,173.6 L378.0,199.2 Z" fill="#EE8440"/>
<path d="M376.6,198.7 L386.8,172.9 L393.4,175.7 L381.9,200.9 Z" fill="#ED7C3F"/>
<path d="M380.6,200.3 L391.7,175.0 L398.1,178.0 L385.8,202.8 Z" fill="#EC753E"/>
<path d="M384.5,202.1 L396.5,177.2 L402.8,180.4 L389.7,204.8 Z" fill="#EB6D3D"/>
<path d="M388.3,204.1 L401.2,179.6 L407.4,183.1 L393.4,206.9 Z" fill="#EA663C"/>
<path d="M392.1,206.1 L405.8,182.1 L411.9,185.8 L397.1,209.1 Z" fill="#E9613C"/>
<path d="M395.8,208.3 L410.3,184.8 L416.3,188.7 L400.7,211.5 Z" fill="#E8603C"/>
<path d="M399.4,210.7 L414.7,187.7 L420.6,191.8 L404.2,214.0 Z" fill="#E85F3B"/>
<path d="M403.0,213.1 L419.1,190.7 L424.7,195.0 L407.6,216.6 Z" fill="#E75D3B"/>
<path d="M406.4,215.7 L423.3,193.9 L428.8,198.4 L411.0,219.4 Z" fill="#E75C3A"/>
<path d="M409.8,218.4 L427.4,197.2 L432.7,201.9 L414.2,222.2 Z" fill="#E65B3A"/>
<path d="M413.1,221.2 L431.4,200.6 L436.6,205.5 L417.3,225.2 Z" fill="#E75F3B"/>
<path d="M416.2,224.1 L435.2,204.2 L440.2,209.3 L420.4,228.3 Z" fill="#E86A3C"/>
<path d="M419.3,227.2 L439.0,208.0 L443.8,213.2 L423.3,231.4 Z" fill="#EA743D"/>
<path d="M422.3,230.3 L442.5,211.8 L447.1,217.2 L426.1,234.7 Z" fill="#EC7E3E"/>
<path d="M425.1,233.5 L446.0,215.8 L450.4,221.4 L428.8,238.1 Z" fill="#ED893F"/>
<path d="M427.9,236.9 L449.3,219.9 L453.5,225.6 L431.4,241.5 Z" fill="#EE9241"/>
<path d="M430.5,240.3 L452.4,224.1 L456.4,230.0 L433.8,245.1 Z" fill="#EF9942"/>
<path d="M433.0,243.8 L455.4,228.5 L459.2,234.5 L436.1,248.7 Z" fill="#EFA143"/>
<path d="M435.3,247.4 L458.3,232.9 L461.8,239.0 L438.3,252.4 Z" fill="#EFA944"/>
<path d="M437.6,251.1 L460.9,237.4 L464.3,243.7 L440.4,256.2 Z" fill="#F0B045"/>
<path d="M439.7,254.9 L463.5,242.0 L466.6,248.4 L442.3,260.0 Z" fill="#F0B547"/>
<path d="M441.7,258.7 L465.8,246.7 L468.8,253.2 L444.1,264.0 Z" fill="#EFB848"/>
<path d="M443.5,262.6 L468.0,251.5 L470.7,258.0 L445.8,267.9 Z" fill="#EFBB49"/>
<path d="M445.2,266.5 L470.1,256.3 L472.5,263.0 L447.3,272.0 Z" fill="#EEBD4B"/>
<path d="M446.8,270.6 L471.9,261.2 L474.1,268.0 L448.7,276.1 Z" fill="#EEC04C"/>
<path d="M448.2,274.6 L473.6,266.2 L475.6,273.0 L449.9,280.2 Z" fill="#EDC24E"/>
<path d="M449.5,278.7 L475.1,271.2 L476.9,278.1 L451.0,284.4 Z" fill="#EDC54F"/>
<path d="M450.6,282.9 L476.4,276.3 L477.9,283.2 L452.0,288.6 Z" fill="#ECC551"/>
<path d="M451.6,287.1 L477.6,281.4 L478.9,288.4 L452.8,292.8 Z" fill="#EBC553"/>
<path d="M452.5,291.3 L478.6,286.6 L479.6,293.5 L453.4,297.1 Z" fill="#E9C554"/>
<path d="M453.2,295.6 L479.4,291.7 L480.1,298.7 L453.9,301.3 Z" fill="#E8C556"/>
<path d="M453.7,299.8 L480.0,296.9 L480.5,304.0 L454.2,305.6 Z" fill="#E7C658"/>
<path d="M454.1,304.1 L480.4,302.1 L480.7,309.2 L454.4,309.9 Z" fill="#E6C65A"/>
<path d="M454.4,308.4 L480.6,307.4 L480.7,314.4 L454.5,314.3 Z" fill="#E5C65B"/>
<path d="M454.5,312.7 L480.7,312.6 L480.6,319.6 L454.5,318.6 Z" fill="#E4C65D"/>
<path d="M454.5,317.1 L480.6,317.8 L480.3,324.9 L454.4,322.9 Z" fill="#E1C560"/>
<path d="M454.5,321.4 L480.4,323.0 L479.8,330.1 L454.1,327.2 Z" fill="#DDC466"/>
<path d="M454.2,325.7 L480.0,328.2 L479.2,335.2 L453.6,331.5 Z" fill="#D9C36A"/>
<path d="M453.8,330.0 L479.4,333.4 L478.3,340.4 L453.1,335.8 Z" fill="#D5C270"/>
<path d="M453.3,334.3 L478.6,338.6 L477.3,345.5 L452.3,340.1 Z" fill="#D0C074"/>
<path d="M452.6,338.6 L477.7,343.7 L476.1,350.6 L451.4,344.3 Z" fill="#CCBF7A"/>
<path d="M451.7,342.8 L476.6,348.8 L474.8,355.7 L450.4,348.5 Z" fill="#C8BE7E"/>
<path d="M450.8,347.0 L475.3,353.9 L473.2,360.7 L449.2,352.7 Z" fill="#C4BD84"/>
<path d="M449.6,351.2 L473.8,358.9 L471.5,365.6 L447.9,356.8 Z" fill="#BFBB89"/>
<path d="M448.3,355.4 L472.1,363.9 L469.6,370.5 L446.4,360.9 Z" fill="#B9B890"/>
<path d="M446.9,359.5 L470.3,368.8 L467.5,375.3 L444.7,365.0 Z" fill="#B3B596"/>
<path d="M445.3,363.6 L468.3,373.6 L465.3,380.0 L443.0,369.0 Z" fill="#ADB29C"/>
<path d="M443.6,367.6 L466.1,378.4 L462.9,384.7 L441.1,372.9 Z" fill="#A6AFA3"/>
<path d="M441.8,371.5 L463.8,383.1 L460.4,389.2 L439.0,376.8 Z" fill="#A0ACA9"/>
<path d="M439.8,375.4 L461.3,387.7 L457.6,393.7 L436.9,380.5 Z" fill="#9AA9AF"/>
<path d="M437.6,379.2 L458.6,392.2 L454.8,398.1 L434.5,384.3 Z" fill="#94A6B6"/>
<path d="M435.4,383.0 L455.8,396.6 L451.8,402.4 L432.1,387.9 Z" fill="#8EA3BC"/>
<path d="M433.0,386.6 L452.8,400.9 L448.6,406.5 L429.5,391.4 Z" fill="#879EBD"/>
<path d="M430.4,390.2 L449.7,405.1 L445.3,410.6 L426.8,394.9 Z" fill="#819ABE"/>
<path d="M427.8,393.7 L446.5,409.2 L441.8,414.5 L424.0,398.3 Z" fill="#7A95BE"/>
<path d="M425.0,397.1 L443.1,413.2 L438.3,418.4 L421.1,401.6 Z" fill="#7390BF"/>
<path d="M422.1,400.4 L439.5,417.0 L434.5,422.0 L418.1,404.8 Z" fill="#6D8CC0"/>
<path d="M419.1,403.6 L435.9,420.8 L430.7,425.6 L415.0,407.9 Z" fill="#6687C1"/>
<path d="M416.1,406.8 L432.0,424.4 L426.7,429.0 L411.7,410.9 Z" fill="#5F82C2"/>
<path d="M412.9,409.9 L428.1,427.8 L422.6,432.3 L408.4,413.8 Z" fill="#5B7FC2"/>
<path d="M409.6,412.8 L424.1,431.1 L418.4,435.4 L405.0,416.6 Z" fill="#5A7EC1"/>
<path d="M406.2,415.7 L419.9,434.3 L414.1,438.4 L401.4,419.3 Z" fill="#587CC1"/>
<path d="M402.7,418.4 L415.6,437.3 L409.7,441.2 L397.8,421.9 Z" fill="#567AC1"/>
<path d="M399.1,421.0 L411.3,440.2 L405.2,443.9 L394.1,424.3 Z" fill="#5579C0"/>
<path d="M395.4,423.5 L406.8,442.9 L400.6,446.4 L390.3,426.6 Z" fill="#5377C0"/>
<path d="M391.6,425.9 L402.2,445.5 L395.9,448.7 L386.4,428.8 Z" fill="#5276BF"/>
<path d="M387.8,428.1 L397.6,447.9 L391.2,450.9 L382.4,430.9 Z" fill="#5074BF"/>
<path d="M383.8,430.2 L392.8,450.2 L386.3,452.9 L378.3,432.8 Z" fill="#4E72BF"/>
<path d="M379.8,432.1 L388.0,452.2 L381.4,454.8 L374.2,434.5 Z" fill="#4D71BE"/>
<path d="M375.7,433.9 L383.2,454.1 L376.5,456.4 L370.0,436.2 Z" fill="#4C70BE"/>
<path d="M371.5,435.6 L378.2,455.9 L371.5,457.9 L365.8,437.7 Z" fill="#4B6EBD"/>
<path d="M367.3,437.2 L373.2,457.4 L366.4,459.3 L361.5,439.0 Z" fill="#4B6EBC"/>
<path d="M363.0,438.5 L368.2,458.8 L361.3,460.4 L357.1,440.2 Z" fill="#4B6CBB"/>
<path d="M358.6,439.8 L363.1,460.0 L356.1,461.4 L352.7,441.2 Z" fill="#4A6CBA"/>
<path d="M354.3,440.9 L357.9,461.1 L351.0,462.2 L348.3,442.1 Z" fill="#4A6ABA"/>
<path d="M349.8,441.8 L352.8,461.9 L345.8,462.8 L343.8,442.8 Z" fill="#496AB9"/>
<path d="M345.4,442.6 L347.6,462.6 L340.5,463.2 L339.3,443.4 Z" fill="#4968B8"/>
<path d="M340.9,443.2 L342.4,463.1 L335.3,463.4 L334.8,443.8 Z" fill="#4968B7"/>
<path d="M336.3,443.7 L337.2,463.4 L330.1,463.5 L330.2,444.0 Z" fill="#4866B6"/>
<path d="M331.8,444.0 L331.9,463.5 L324.9,463.3 L325.6,444.2 Z" fill="#4864B5"/>
<path d="M327.2,444.2 L326.7,463.4 L319.6,462.9 L321.1,444.2 Z" fill="#4862B2"/>
<path d="M322.7,444.2 L321.5,463.1 L314.4,462.4 L316.5,444.1 Z" fill="#475EAF"/>
<path d="M318.1,444.2 L316.2,462.6 L309.3,461.7 L311.9,443.8 Z" fill="#475CAC"/>
<path d="M313.5,443.9 L311.1,461.9 L304.1,460.8 L307.3,443.3 Z" fill="#4758A9"/>
<path d="M308.9,443.5 L305.9,461.1 L299.0,459.7 L302.7,442.7 Z" fill="#4656A7"/>
<path d="M304.3,442.9 L300.8,460.1 L293.9,458.4 L298.2,441.9 Z" fill="#4652A4"/>
<path d="M299.8,442.2 L295.7,458.9 L288.9,457.0 L293.6,440.9 Z" fill="#4650A1"/>
<path d="M295.2,441.3 L290.7,457.5 L283.9,455.4 L289.1,439.8 Z" fill="#454C9E"/>
<path d="M290.7,440.2 L285.7,456.0 L279.0,453.6 L284.6,438.5 Z" fill="#454A9B"/>
<path d="M286.2,439.0 L280.7,454.2 L274.2,451.6 L280.2,437.1 Z" fill="#444798"/>
<path d="M281.7,437.6 L275.9,452.3 L269.4,449.5 L275.8,435.5 Z" fill="#424493"/>
<path d="M277.3,436.1 L271.1,450.3 L264.8,447.2 L271.4,433.8 Z" fill="#41418E"/>
<path d="M273.0,434.4 L266.4,448.1 L260.2,444.8 L267.1,431.9 Z" fill="#3F3F89"/>
<path d="M268.6,432.5 L261.8,445.7 L255.6,442.2 L262.9,429.8 Z" fill="#3D3C84"/>
<path d="M264.4,430.6 L257.2,443.1 L251.2,439.4 L258.7,427.6 Z" fill="#3B3980"/>
<path d="M260.2,428.4 L252.8,440.4 L246.9,436.5 L254.6,425.3 Z" fill="#39377B"/>
<path d="M256.0,426.1 L248.4,437.6 L242.7,433.4 L250.6,422.8 Z" fill="#383476"/>
<path d="M252.0,423.7 L244.2,434.5 L238.7,430.2 L246.6,420.2 Z" fill="#363171"/>
<path d="M248.0,421.1 L240.1,431.3 L234.7,426.8 L242.8,417.4 Z" fill="#34306E"/>
<path d="M244.1,418.4 L236.1,428.0 L230.9,423.3 L239.0,414.5 Z" fill="#332F6C"/>
<path d="M240.3,415.5 L232.2,424.5 L227.2,419.6 L235.3,411.4 Z" fill="#322E6A"/>
<path d="M236.6,412.5 L228.5,420.9 L223.7,415.9 L231.9,408.1 Z" fill="#312E68"/>
<path d="M233.0,409.3 L224.9,417.2 L220.3,412.0 L228.6,404.5 Z" fill="#302D66"/>
<path d="M229.8,405.8 L221.4,413.4 L217.0,408.0 L225.5,400.9 Z" fill="#2F2C64"/>
<path d="M226.6,402.2 L218.1,409.4 L213.9,403.9 L222.5,397.2 Z" fill="#2D2B62"/>
<path d="M223.6,398.5 L214.9,405.3 L210.9,399.7 L219.7,393.3 Z" fill="#2C2B60"/>
<path d="M220.7,394.7 L211.9,401.2 L208.0,395.4 L217.0,389.4 Z" fill="#2B2A5E"/>
<path d="M217.9,390.8 L209.0,396.9 L205.4,390.9 L214.4,385.4 Z" fill="#2C2B5E"/>
<path d="M215.3,386.8 L206.3,392.5 L202.8,386.5 L211.9,381.3 Z" fill="#2C2B5E"/>
<path d="M212.8,382.7 L203.7,388.0 L200.3,382.0 L209.6,377.1 Z" fill="#2D2C5E"/>
<path d="M210.4,378.6 L201.1,383.6 L197.9,377.4 L207.5,372.8 Z" fill="#2D2D5E"/>
<path d="M208.2,374.3 L198.7,379.0 L195.7,372.7 L205.3,368.5 Z" fill="#2E2E5F"/>
<path d="M206.1,370.0 L196.5,374.4 L193.7,368.0 L203.2,364.2 Z" fill="#2F2E5F"/>
<path d="M203.9,365.8 L194.4,369.7 L191.8,363.2 L201.2,359.8 Z" fill="#2F2F5F"/>
<path d="M201.9,361.4 L192.4,364.9 L190.1,358.3 L199.4,355.4 Z" fill="#30305F"/>
<path d="M200.0,357.0 L190.7,360.0 L188.6,353.4 L197.7,350.8 Z" fill="#42325B"/>
<path d="M198.3,352.4 L189.1,355.1 L187.2,348.4 L196.2,346.2 Z" fill="#653554"/>
<path d="M196.7,347.9 L187.6,350.2 L186.0,343.4 L194.8,341.6 Z" fill="#88384C"/>
<path d="M195.3,343.2 L186.4,345.2 L185.0,338.3 L193.8,336.8 Z" fill="#AB3B45"/>
<path d="M194.1,338.5 L185.3,340.1 L184.1,333.2 L192.9,332.1 Z" fill="#CE3E3E"/>
<path d="M193.2,333.7 L184.4,335.0 L183.5,328.1 L192.1,327.2 Z" fill="#E0403A"/>
<path d="M192.4,328.9 L183.7,329.9 L183.0,322.9 L191.6,322.4 Z" fill="#E1403A"/>
<path d="M191.8,324.1 L183.2,324.7 L182.7,317.8 L191.2,317.5 Z" fill="#E2403A"/>
<path d="M191.3,319.2 L182.8,319.6 L182.6,312.6 L191.1,312.6 Z" fill="#E3403A"/>
<path d="M191.0,314.4 L182.6,314.4 L182.6,307.4 L191.5,307.8 Z" fill="#E3403A"/>
<path d="M191.3,309.5 L182.6,309.2 L182.8,302.2 L192.1,302.9 Z" fill="#E4403A"/>
<path d="M191.9,304.6 L182.7,304.0 L183.2,297.0 L192.9,298.1 Z" fill="#E5403A"/>
<path d="M192.6,299.8 L183.0,298.9 L183.7,291.9 L193.9,293.4 Z" fill="#E5413A"/>
<path d="M193.5,295.0 L183.5,293.7 L184.5,286.7 L195.0,288.7 Z" fill="#E6423A"/>
<path d="M194.6,290.3 L184.2,288.5 L185.4,281.6 L196.5,284.0 Z" fill="#E6423B"/>
<path d="M195.8,285.6 L185.0,283.4 L186.5,276.5 L199.1,279.7 Z" fill="#E7433B"/>
<path d="M198.1,281.2 L186.1,278.3 L187.8,271.5 L201.8,275.6 Z" fill="#E7443B"/>
<path d="M200.8,277.0 L187.3,273.2 L189.2,266.5 L204.7,271.6 Z" fill="#E7453B"/>
<path d="M203.6,273.0 L188.7,268.2 L190.8,261.5 L207.6,267.7 Z" fill="#E8463B"/>
<path d="M206.6,269.1 L190.3,263.2 L192.6,256.6 L210.7,264.1 Z" fill="#E8463C"/>
<path d="M209.6,265.3 L192.0,258.3 L194.6,251.8 L213.9,260.5 Z" fill="#E9473C"/>
<path d="M212.8,261.7 L193.9,253.5 L196.8,247.0 L216.5,256.8 Z" fill="#E9483C"/>
<path d="M215.7,258.1 L196.0,248.7 L199.1,242.3 L218.8,253.0 Z" fill="#E94B3C"/>
<path d="M218.0,254.3 L198.2,243.9 L201.5,237.7 L221.2,249.2 Z" fill="#EA4E3C"/>
<path d="M220.4,250.5 L200.7,239.3 L204.2,233.2 L223.8,245.6 Z" fill="#EA503C"/>
<path d="M222.9,246.9 L203.3,234.8 L207.0,228.8 L226.5,242.1 Z" fill="#EA533C"/>
<path d="M225.5,243.3 L206.0,230.3 L210.0,224.5 L229.3,238.6 Z" fill="#EB563D"/>
<path d="M228.3,239.8 L209.0,226.0 L213.1,220.3 L232.2,235.3 Z" fill="#EB593D"/>
<path d="M231.2,236.5 L212.0,221.7 L216.4,216.2 L235.2,232.1 Z" fill="#EB5C3D"/>
<path d="M234.1,233.2 L215.3,217.6 L219.8,212.2 L238.3,229.0 Z" fill="#EC5F3D"/>
<path d="M237.2,230.1 L218.6,213.6 L223.4,208.3 L241.5,226.1 Z" fill="#EC633D"/>
<path d="M240.4,227.1 L222.1,209.6 L227.1,204.6 L244.8,223.1 Z" fill="#ED683E"/>
<path d="M243.6,224.1 L225.8,205.9 L230.9,201.0 L248.0,220.2 Z" fill="#ED6E3F"/>
<path d="M246.9,221.2 L229.6,202.2 L234.9,197.5 L251.4,217.4 Z" fill="#EE733F"/>
<path d="M250.2,218.4 L233.5,198.7 L238.9,194.1 L254.8,214.8 Z" fill="#EE7940"/>
<path d="M253.6,215.7 L237.5,195.3 L243.1,191.0 L258.4,212.2 Z" fill="#EF7E40"/>
<path d="M257.1,213.1 L241.6,192.1 L247.4,187.9 L262.0,209.8 Z" fill="#EF8441"/>
<path d="M260.7,210.7 L245.9,189.0 L251.8,185.0 L265.7,207.5 Z" fill="#F08942"/>
<path d="M264.4,208.3 L250.2,186.0 L256.3,182.3 L269.5,205.4 Z" fill="#F08D42"/>
<path d="M268.1,206.1 L254.7,183.2 L260.9,179.7 L273.3,203.4 Z" fill="#F09042"/>
<path d="M272.0,204.1 L259.3,180.6 L265.6,177.3 L277.2,201.5 Z" fill="#F19243"/>
<path d="M275.8,202.2 L264.0,178.1 L270.4,175.1 L281.2,199.8 Z" fill="#F19543"/>
<path d="M279.8,200.4 L268.7,175.8 L275.2,173.0 L285.2,198.2 Z" fill="#F19843"/>
<path d="M283.8,198.7 L273.5,173.7 L280.2,171.1 L289.3,196.7 Z" fill="#F19A43"/>
<path d="M287.9,197.2 L278.4,171.8 L285.2,169.4 L293.4,195.4 Z" fill="#F29D44"/>
<path d="M292.0,195.8 L283.4,170.0 L290.2,167.9 L297.6,194.2 Z" fill="#F29F44"/>
<path d="M296.1,194.6 L288.4,168.4 L295.3,166.5 L301.8,193.1 Z" fill="#F2A244"/>
<path d="M300.3,193.5 L293.5,167.0 L300.4,165.3 L306.0,192.2 Z" fill="#F2A344"/>
<path d="M304.5,192.5 L298.6,165.7 L305.6,164.3 L310.2,191.5 Z" fill="#F2A444"/>
<path d="M308.8,191.7 L303.8,164.6 L310.8,163.5 L314.5,190.8 Z" fill="#F2A444"/>
<path d="M313.0,191.0 L309.0,163.7 L316.1,162.8 L318.8,190.4 Z" fill="#F3A544"/>
<path d="M317.3,190.5 L314.3,163.0 L321.4,162.4 L323.1,190.1 Z" fill="#F3A644"/>
<path d="M321.6,190.2 L319.5,162.5 L326.6,162.1 L327.4,189.9 Z" fill="#F3A744"/>
<path d="M325.9,190.0 L324.8,162.2 L331.9,162.0 L331.8,189.9 Z" fill="#F3A844"/>
<path d="M293.7,452.6 A144,144 0 0,1 195.7,362.8" fill="none" stroke="#FFFFFF" stroke-opacity="0.9" stroke-width="1.0"/>
<path d="M271.6,440.8 A140.5,140.5 0 0,1 203.7,372.9" fill="none" stroke="#FFFFFF" stroke-opacity="0.8" stroke-width="0.8"/>
<path d="M318.2,459.4 A146.5,146.5 0 0,1 215.6,403.7" fill="none" stroke="#FFFFFF" stroke-opacity="0.7" stroke-width="0.7"/>
<ellipse cx="464.9" cy="337.1" rx="8" ry="4.5" fill="#A9C1DD" fill-opacity="0.75" transform="rotate(100 464.9 337.1)"/>
<ellipse cx="456.0" cy="359.0" rx="7" ry="4" fill="#9FB8DA" fill-opacity="0.7" transform="rotate(110 456.0 359.0)"/>
<ellipse cx="452.2" cy="383.5" rx="8" ry="4" fill="#B4C8E0" fill-opacity="0.6" transform="rotate(120 452.2 383.5)"/>
<ellipse cx="422.7" cy="415.3" rx="9" ry="4" fill="#8FAAD2" fill-opacity="0.5" transform="rotate(138 422.7 415.3)"/>
<ellipse cx="396.7" cy="437.1" rx="10" ry="3.5" fill="#A0B8DE" fill-opacity="0.45" transform="rotate(152 396.7 437.1)"/>
<ellipse cx="364.6" cy="448.4" rx="10" ry="3.5" fill="#8FA8DA" fill-opacity="0.4" transform="rotate(166 364.6 448.4)"/>
<path d="M179.1,287.3 H229.1 V294.3 Q219.6,294.6 217.3,300.5 V366 Q218.5,385.5 234,385.5 Q259,384.5 265.6,357 L266.3,352.2 H272.8 V393.5 H179.1 V385.4 Q189.8,385 190.8,378.5 V301 Q189.8,294.8 179.1,294.3 Z" fill="url(#wood)" stroke="#2A1C10" stroke-width="1.2"/>
<path d="M228.4,366.4 L275.1,272.4 L291.3,338.7 L335.3,285.3 L338,390.8 L314.3,388.7 L314.3,344.8 L281.8,385.4 L268.3,336 L254.8,375.2 Z" fill="url(#mred)" stroke="#C22A24" stroke-width="1"/>
<path fill-rule="evenodd" d="M326.9,396.1 L336,377.2 L323.4,371.6 L321.3,363.2 L343,351.9 L348.7,318.3 L350.1,281.8 L357.1,275.5 L365.5,277.6 L371.1,290.2 L376,284.6 L389.3,316.9 L399.1,315.5 L406.2,318.3 L416,325.3 L411.8,332.3 L404.7,343.5 L413.2,377.2 L406.2,381.4 L393.5,363.2 L379.5,346.3 L352.9,359 L340.2,381.4 L331.8,395.4 Z M352.9,341.4 L359.9,318.3 L369,332.3 Z" fill="#0512B5" stroke="#0512B5" stroke-width="1.5" stroke-linejoin="round"/>
<path d="M418.3,348 L417.8,342.9 C416,322 430,297 455.5,297.3" fill="none" stroke="#3A78B2" stroke-width="24"/>
<path d="M410.5,341 C409,317 426,292 455,289.5" fill="none" stroke="#2B5886" stroke-width="12"/>
<path d="M417.6,339 L417.8,342.9 C418,365 430,380 450.3,380.7" fill="none" stroke="#DA9C3E" stroke-width="23"/>
<path d="M407.5,345 C408,372 424,389 448,391" fill="none" stroke="#8F6424" stroke-width="4"/>
<path d="M455.5,297.3 Q469,298 476.5,307" fill="none" stroke="#6CA94C" stroke-width="21"/>
<circle cx="476.5" cy="307" r="10.5" fill="#6CA94C"/>
<path d="M458,289 Q472,290 481,298" fill="none" stroke="#5A9040" stroke-width="5"/>
<path d="M450.3,380.7 C460,379 468,372 473,364.5" fill="none" stroke="#C3305A" stroke-width="22"/>
<circle cx="473" cy="364.5" r="11" fill="#C3305A"/>
<path d="M446,370 C456,368 464,363 470,357" fill="none" stroke="#8C1E45" stroke-width="7"/>
<ellipse cx="455.5" cy="297.3" rx="7.2" ry="8.6" fill="#265A2C"/>
<ellipse cx="417.8" cy="342.9" rx="7.2" ry="8.6" fill="#265A2C"/>
<ellipse cx="450.3" cy="380.7" rx="7.3" ry="8.9" fill="#C22A20"/>
</g>

</svg>
</body></html>
